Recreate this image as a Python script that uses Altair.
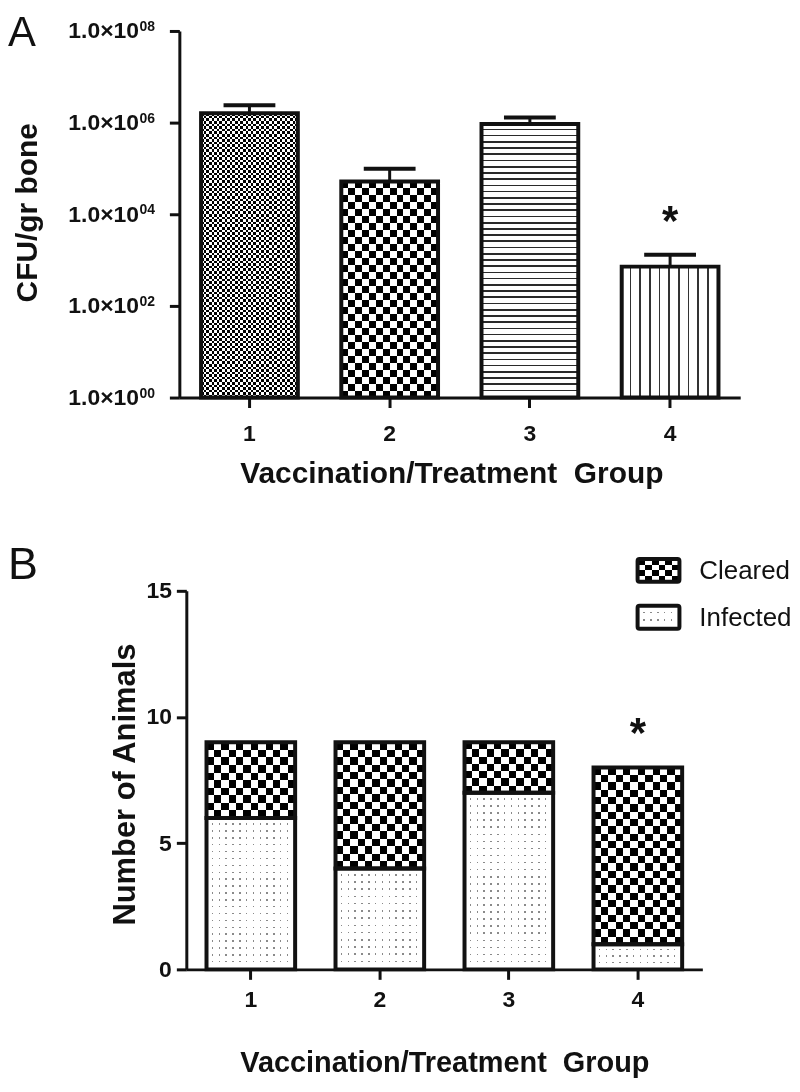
import math
import altair as alt
import pandas as pd

# ---------------- data ----------------
groups = ["1", "2", "3", "4"]

# Panel A: CFU per gram of bone (log scale)
cfu_mean = [1.6e6, 5.2e4, 9.3e5, 7.2e2]
cfu_upper = [2.4e6, 9.8e4, 1.3e6, 1.3e3]
cfu_ticks = [1, 1e2, 1e4, 1e6, 1e8]
cfu_exponents = ["00", "02", "04", "06", "08"]
star_a_group = ["4"]
star_a_y = [3.6e3]

# Panel B: number of animals
infected = [6, 4, 7, 1]
cleared = [3, 5, 2, 7]
count_ticks = [0, 5, 10, 15]
star_b_group = ["4"]
star_b_y = [8.8]
legend_labels = ["Cleared", "Infected"]
panel_letters = ["A", "B"]

x_title = "Vaccination/Treatment\u00a0 Group"

FONT = "Liberation Sans"
INK = "#111111"

# ---------------- pattern helpers (style only) ----------------
def seg_gradient(segments, vertical_stripes):
    stops = []
    for a, b, col in segments:
        stops.append(alt.GradientStop(color=col, offset=round(a, 5)))
        stops.append(alt.GradientStop(color=col, offset=round(b, 5)))
    if vertical_stripes:
        return alt.LinearGradient(gradient="linear", stops=stops, x1=0, y1=0, x2=1, y2=0)
    return alt.LinearGradient(gradient="linear", stops=stops, x1=0, y1=0, x2=0, y2=1)


def alternating(n, c1, c2, vertical_stripes):
    segs = [(k / n, (k + 1) / n, c1 if k % 2 == 0 else c2) for k in range(n)]
    return seg_gradient(segs, vertical_stripes)


def lines(n, frac, line_col, bg, vertical_stripes):
    segs = []
    for k in range(n):
        a = k / n
        m = (k + 1 - frac) / n
        c = (k + 1) / n
        segs.append((a, m, bg))
        segs.append((m, c, line_col))
    return seg_gradient(segs, vertical_stripes)


def pattern_layers(base, kind, w_px, h_px, mark="bar"):
    mk = getattr(base, "mark_" + mark)
    out = []
    if kind[0] == "checker":
        cell = kind[1]
        cols = max(2, round(w_px / cell))
        rows = max(2, round(h_px / cell))
        out.append(mk(fill=alternating(cols, "#000000", "#ffffff", True), strokeWidth=0))
        out.append(mk(fill=alternating(rows, "#000000", "#ffffff", False), strokeWidth=0,
                      blend="difference"))
    elif kind[0] == "hlines":
        n = max(1, round(h_px / kind[1]))
        out.append(mk(fill=lines(n, kind[2], "#2a2a2a", "#ffffff", False), strokeWidth=0))
    elif kind[0] == "vlines":
        n = max(1, round(w_px / kind[1]))
        out.append(mk(fill=lines(n, kind[2], "#333333", "#ffffff", True), strokeWidth=0))
    elif kind[0] == "dots":
        cols = max(1, round(w_px / kind[1]))
        rows = max(1, round(h_px / kind[1]))
        out.append(mk(fill=lines(cols, 0.22, "#8a8a8a", "#ffffff", True), strokeWidth=0))
        out.append(mk(fill=lines(rows, 0.22, "#8a8a8a", "#ffffff", False), strokeWidth=0,
                      blend="lighten"))
    return out


# ---------------- Panel A ----------------
A_W, A_H = 563, 368
a_df = pd.DataFrame({"group": groups, "mean": cfu_mean, "upper": cfu_upper,
                     "base": [1] * len(groups)})
ticks_df = pd.DataFrame({"v": cfu_ticks, "e": cfu_exponents})
star_a_df = pd.DataFrame({"group": star_a_group, "y": star_a_y, "t": ["*"]})
letter_a_df = pd.DataFrame({"t": [panel_letters[0]]})

a_yscale = alt.Scale(type="log", domain=[1, 1e8], nice=False)
a_x = alt.X("group:N", scale=alt.Scale(domain=groups, paddingInner=0.31, paddingOuter=0.155),
            axis=alt.Axis(title=x_title, labelAngle=0, labelFontSize=23, labelPadding=15,
                          titleFontSize=30, titlePadding=13, titleX=273))
a_y = alt.Y("mean:Q", scale=a_yscale,
            axis=alt.Axis(values=cfu_ticks, labelExpr="'1.0×10'", labelFontSize=23,
                          labelPadding=31, labelOverlap=False, title="CFU/gr bone",
                          titleFontSize=30, titleAngle=-90, titleX=-143.5, titleY=182,
                          titleAlign="center", titleBaseline="alphabetic"))

a_patterns = [("checker", 2.6), ("checker", 7.0), ("hlines", 6.3, 0.27), ("vlines", 9.5, 0.18)]
a_layers = []
for g, m, pat in zip(groups, cfu_mean, a_patterns):
    base = alt.Chart(a_df).transform_filter(alt.datum.group == g).encode(
        x=a_x, y=a_y, y2="base:Q")
    h_px = A_H * math.log10(m) / 8
    a_layers += pattern_layers(base, pat, 97, h_px)

a_outline = alt.Chart(a_df).mark_bar(fill="#ffffff", fillOpacity=0, stroke=INK,
                                     strokeWidth=4).encode(x=a_x, y=a_y, y2="base:Q")
a_err = alt.Chart(a_df).mark_rule(color=INK, strokeWidth=3).encode(
    x=a_x, y=a_y, y2="upper:Q")
a_cap = alt.Chart(a_df).mark_tick(color=INK, thickness=4, size=52, opacity=1).encode(
    x=a_x, y=alt.Y("upper:Q", scale=a_yscale))
a_star = alt.Chart(star_a_df).mark_text(font=FONT, fontSize=42, fontWeight="bold", color=INK,
                                        baseline="alphabetic").encode(
    x=a_x, y=alt.Y("y:Q", scale=a_yscale), text="t:N")
a_exp = alt.Chart(ticks_df).mark_text(font=FONT, fontSize=14, fontWeight="bold", color=INK,
                                      align="left", baseline="alphabetic").encode(
    x=alt.value(-40), y=alt.Y("v:Q", scale=a_yscale), text="e:N")
a_letter = alt.Chart(letter_a_df).mark_text(font=FONT, fontSize=42, color=INK, align="left",
                                            baseline="alphabetic").encode(
    x=alt.value(-172), y=alt.value(15), text="t:N")

chart_a = alt.layer(*a_layers, a_outline, a_err, a_cap, a_star, a_exp, a_letter).properties(
    width=A_W, height=A_H)

# ---------------- Panel B ----------------
B_W, B_H = 525, 380
PX_PER_UNIT = B_H / 15
rows = []
for g, inf, cl in zip(groups, infected, cleared):
    rows.append({"group": g, "status": "Infected", "start": 0, "end": inf})
    rows.append({"group": g, "status": "Cleared", "start": inf, "end": inf + cl})
b_df = pd.DataFrame(rows)
star_b_df = pd.DataFrame({"group": star_b_group, "y": star_b_y, "t": ["*"]})
legend_df = pd.DataFrame({"label": legend_labels})
letter_b_df = pd.DataFrame({"t": [panel_letters[1]]})

b_x = alt.X("group:N", scale=alt.Scale(domain=groups, range=[7, B_W], paddingInner=0.313,
                                       paddingOuter=0.1565),
            axis=alt.Axis(title=x_title, labelAngle=0, labelFontSize=23, labelPadding=9,
                          titleFontSize=29, titlePadding=38))
b_yscale = alt.Scale(domain=[0, 15], nice=False)
b_y = alt.Y("end:Q", scale=b_yscale,
            axis=alt.Axis(values=count_ticks, labelFontSize=23, labelPadding=5, offset=-7,
                          title="Number of Animals", titleFontSize=31, titleAngle=-90,
                          titleX=-52, titleY=194, titleAlign="center",
                          titleBaseline="alphabetic"))

b_layers = []
for g, inf, cl in zip(groups, infected, cleared):
    for status, val, pat in (("Infected", inf, ("dots", 7.0)), ("Cleared", cl, ("checker", 7.4))):
        base = alt.Chart(b_df).transform_filter(
            (alt.datum.group == g) & (alt.datum.status == status)).encode(
            x=b_x, y=b_y, y2="start:Q")
        b_layers += pattern_layers(base, pat, 89, val * PX_PER_UNIT)

b_outline = alt.Chart(b_df).mark_bar(fill="#ffffff", fillOpacity=0, stroke=INK,
                                     strokeWidth=4).encode(x=b_x, y=b_y, y2="start:Q")
b_star = alt.Chart(star_b_df).mark_text(font=FONT, fontSize=42, fontWeight="bold", color=INK,
                                        baseline="alphabetic").encode(
    x=b_x, y=alt.Y("y:Q", scale=b_yscale), text="t:N")

# legend (manual, to show the fill patterns)
leg_layers = []
leg_pos = {"Cleared": (-32, -9, -20), "Infected": (15, 38, 27)}
leg_pat = {"Cleared": ("checker", 6.5), "Infected": ("dots", 7.0)}
for lab in legend_labels:
    y0, y1, yt = leg_pos[lab]
    src = alt.Chart(legend_df).transform_filter(alt.datum.label == lab)
    base = src.encode(x=alt.value(460), x2=alt.value(502), y=alt.value(y0), y2=alt.value(y1))
    leg_layers += pattern_layers(base, leg_pat[lab], 42, 23, mark="rect")
    leg_layers.append(base.mark_rect(fill="#ffffff", fillOpacity=0, stroke=INK, strokeWidth=4,
                                     cornerRadius=2))
    leg_layers.append(src.mark_text(font=FONT, fontSize=26, color=INK, align="left",
                                    baseline="middle").encode(
        x=alt.value(522), y=alt.value(yt), text="label:N"))
b_letter = alt.Chart(letter_b_df).mark_text(font=FONT, fontSize=45, color=INK, align="left",
                                            baseline="alphabetic").encode(
    x=alt.value(-172), y=alt.value(-12), text="t:N")

chart_b = alt.layer(*b_layers, b_outline, b_star, *leg_layers, b_letter).properties(
    width=B_W, height=B_H)

chart = alt.vconcat(chart_a, chart_b, spacing=194, bounds="flush").properties(
    padding={"left": 0, "top": 2, "right": 0, "bottom": 0}, background="white"
).configure_view(stroke=None).configure_axis(
    grid=False, domainColor=INK, domainWidth=3, tickColor=INK, tickWidth=3, tickSize=10,
    labelFont=FONT, labelFontWeight="bold", labelColor=INK, titleFont=FONT,
    titleFontWeight="bold", titleColor=INK
)

chart.save("out.html", embed_options={"renderer": "svg", "actions": False})
